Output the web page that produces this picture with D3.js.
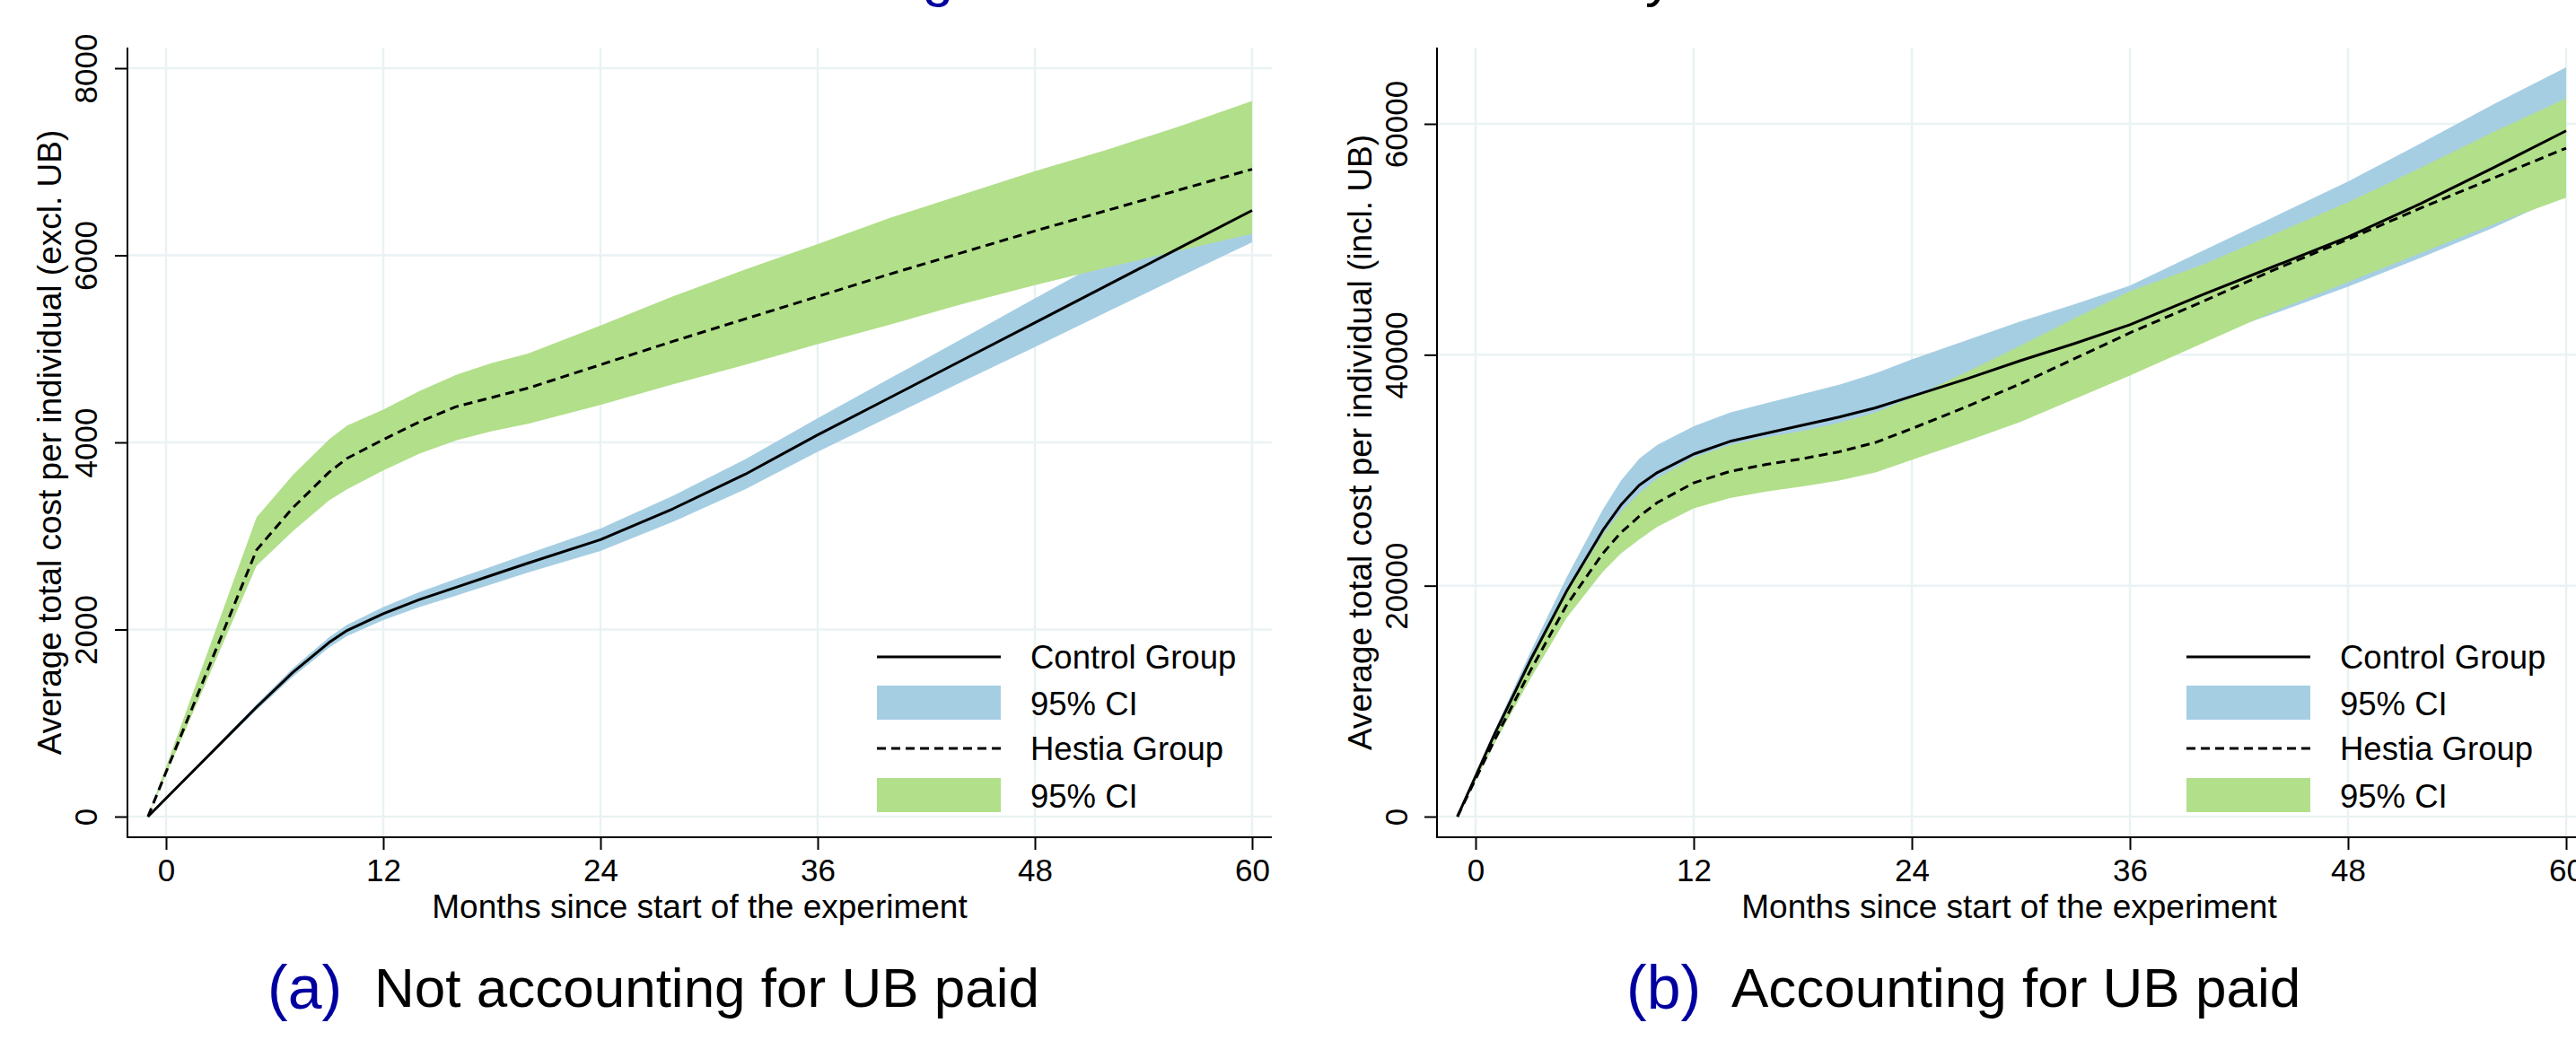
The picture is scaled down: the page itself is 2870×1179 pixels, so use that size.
<!DOCTYPE html>
<html>
<head>
<meta charset="utf-8">
<script src="https://cdn.jsdelivr.net/npm/d3@7"></script>
<style>
  html, body { margin: 0; padding: 0; background: #fff; }
  svg { display: block; }
</style>
</head>
<body>
<div id="chart"></div>
<script>
// shared
const monthTicks = [0, 12, 24, 36, 48, 60];
const legendLabels = ['Control Group', '95% CI', 'Hestia Group', '95% CI'];

// panel (a): not accounting for UB paid
const monthsA = [-1, 5, 7, 9, 10, 12, 14, 16, 18, 20, 24, 28, 32, 36, 40, 44, 48, 52, 56, 60];
const controlA = [0, 1170, 1540, 1860, 1990, 2170, 2320, 2450, 2580, 2710, 2960, 3290, 3660, 4080, 4480, 4880, 5280, 5680, 6080, 6480];
const controlLoA = [0, 1140, 1495, 1805, 1930, 2100, 2240, 2360, 2485, 2610, 2840, 3150, 3500, 3900, 4275, 4650, 5020, 5395, 5770, 6140];
const controlHiA = [0, 1200, 1585, 1915, 2050, 2240, 2400, 2540, 2675, 2810, 3080, 3430, 3820, 4260, 4685, 5110, 5540, 5965, 6390, 6820];
const hestiaA = [0, 2850, 3300, 3680, 3830, 4030, 4220, 4380, 4480, 4580, 4830, 5080, 5320, 5560, 5800, 6030, 6260, 6480, 6700, 6920];
const hestiaLoA = [0, 2680, 3050, 3380, 3500, 3700, 3880, 4020, 4120, 4200, 4400, 4620, 4830, 5050, 5260, 5480, 5680, 5870, 6050, 6230];
const hestiaHiA = [0, 3200, 3650, 4030, 4180, 4350, 4550, 4720, 4850, 4950, 5250, 5560, 5850, 6120, 6400, 6650, 6900, 7130, 7380, 7650];
const yTicksA = [0, 2000, 4000, 6000, 8000];

// panel (b): accounting for UB paid
const monthsB = [-1, 1, 3, 5, 7, 8, 9, 10, 12, 14, 16, 18, 20, 22, 24, 27, 30, 33, 36, 40, 44, 48, 52, 56, 60];
const controlB = [0, 7000, 13500, 19500, 24800, 27000, 28700, 29800, 31400, 32500, 33200, 33900, 34600, 35400, 36400, 37900, 39500, 41000, 42600, 45200, 47700, 50200, 53100, 56200, 59400];
const controlLoB = [0, 6700, 12800, 18300, 23000, 24900, 26400, 27400, 29000, 30000, 30600, 31200, 31800, 32400, 33200, 34550, 36000, 37400, 38900, 41400, 43600, 45900, 48400, 51000, 53900];
const controlHiB = [0, 7300, 14200, 20700, 26600, 29100, 31000, 32200, 33800, 35000, 35800, 36600, 37400, 38400, 39600, 41250, 42900, 44400, 46000, 49000, 52000, 55000, 58300, 61700, 64900];
const hestiaB = [0, 6500, 12600, 18300, 22800, 24600, 26000, 27200, 28900, 29900, 30500, 31000, 31600, 32400, 33600, 35500, 37500, 39700, 41900, 44600, 47400, 50000, 52700, 55300, 57900];
const hestiaLoB = [0, 6200, 11900, 17200, 21200, 22800, 24000, 25100, 26700, 27600, 28150, 28600, 29100, 29800, 30900, 32500, 34200, 36200, 38200, 41000, 43800, 46300, 48800, 51300, 53600];
const hestiaHiB = [0, 6800, 13300, 19400, 24400, 26400, 28000, 29300, 31100, 32200, 32850, 33400, 34100, 35000, 36300, 38500, 40800, 43200, 45500, 47800, 50500, 53200, 56200, 59300, 62200];
const yTicksB = [0, 20000, 40000, 60000];

const W = 2870, H = 1179;
const FONT = "'Liberation Sans', Arial, sans-serif";
const gridColor = '#eaf2f3';
const blue = '#a6cee3', green = '#b2df8a';
const captionBlue = '#0000a0';
const plotTop = 53, axisY = 933;

const svg = d3.select('#chart').append('svg')
    .attr('width', W)
    .attr('height', H)
    .style('font-family', FONT);

svg.append('rect').attr('width', W).attr('height', H).attr('fill', '#fff');

function drawPanel(p) {
    const x = d3.scaleLinear().domain([0, 60]).range([p.x0, p.x60]);
    const y = d3.scaleLinear().domain([0, p.yTop]).range([910, p.yTopPos]);
    const g = svg.append('g');

    // gridlines
    g.selectAll('.vgrid').data(monthTicks).enter().append('line')
        .attr('x1', d => x(d)).attr('x2', d => x(d))
        .attr('y1', plotTop).attr('y2', axisY)
        .style('stroke', gridColor).style('stroke-width', 2.5);
    g.selectAll('.hgrid').data(p.yTicks).enter().append('line')
        .attr('x1', p.axisLeft).attr('x2', p.axisRight)
        .attr('y1', d => y(d)).attr('y2', d => y(d))
        .style('stroke', gridColor).style('stroke-width', 2.5);

    const rows = p.months.map((m, i) => ({
        m: m,
        c: p.control[i], cLo: p.controlLo[i], cHi: p.controlHi[i],
        h: p.hestia[i], hLo: p.hestiaLo[i], hHi: p.hestiaHi[i]
    }));

    const ciControl = d3.area().x(d => x(d.m)).y0(d => y(d.cLo)).y1(d => y(d.cHi));
    const ciHestia = d3.area().x(d => x(d.m)).y0(d => y(d.hLo)).y1(d => y(d.hHi));
    const lineControl = d3.line().x(d => x(d.m)).y(d => y(d.c));
    const lineHestia = d3.line().x(d => x(d.m)).y(d => y(d.h));

    g.append('path').attr('d', ciControl(rows)).style('fill', blue);
    g.append('path').attr('d', ciHestia(rows)).style('fill', green);
    g.append('path').attr('d', lineControl(rows))
        .style('fill', 'none').style('stroke', '#000').style('stroke-width', 3)
        .style('stroke-linejoin', 'round');
    g.append('path').attr('d', lineHestia(rows))
        .style('fill', 'none').style('stroke', '#000').style('stroke-width', 3)
        .style('stroke-linejoin', 'round')
        .style('stroke-dasharray', '10,6');

    // x axis
    const xAxis = g.append('g')
        .attr('transform', `translate(0,${axisY})`)
        .call(d3.axisBottom(x).tickValues(monthTicks).tickSize(14).tickPadding(10).tickSizeOuter(0));
    xAxis.select('.domain').remove();
    xAxis.selectAll('line').style('stroke', '#000').style('stroke-width', 2);
    xAxis.selectAll('text').attr('font-family', FONT).attr('font-size', 35).attr('fill', '#000');
    g.append('line')
        .attr('x1', p.axisLeft - 1).attr('x2', p.axisRight)
        .attr('y1', axisY).attr('y2', axisY)
        .style('stroke', '#000').style('stroke-width', 2);

    // y axis
    const yAxis = g.append('g')
        .attr('transform', `translate(${p.axisLeft},0)`)
        .call(d3.axisLeft(y).tickValues(p.yTicks).tickSize(14).tickSizeOuter(0).tickFormat(d3.format('d')));
    yAxis.select('.domain').remove();
    yAxis.selectAll('line').style('stroke', '#000').style('stroke-width', 2);
    yAxis.selectAll('text')
        .attr('font-family', FONT).attr('font-size', 35).attr('fill', '#000')
        .attr('transform', 'rotate(-90)')
        .attr('x', 0).attr('y', -p.tickLabelGap).attr('dy', 0)
        .style('text-anchor', 'middle');
    g.append('line')
        .attr('x1', p.axisLeft).attr('x2', p.axisLeft)
        .attr('y1', plotTop).attr('y2', axisY + 1)
        .style('stroke', '#000').style('stroke-width', 2);

    // axis titles
    g.append('text')
        .attr('transform', `translate(${p.yTitleX},493) rotate(-90)`)
        .style('text-anchor', 'middle').attr('font-size', 37)
        .text(p.yTitle);
    g.append('text')
        .attr('x', (p.axisLeft + p.axisRight) / 2).attr('y', 1023)
        .style('text-anchor', 'middle').attr('font-size', 37)
        .text('Months since start of the experiment');

    // legend
    const lx = p.axisRight - 440;
    const leg = g.append('g');
    leg.append('line').attr('x1', lx).attr('x2', lx + 138).attr('y1', 732).attr('y2', 732)
        .style('stroke', '#000').style('stroke-width', 3);
    leg.append('rect').attr('x', lx).attr('y', 764).attr('width', 138).attr('height', 38).style('fill', blue);
    leg.append('line').attr('x1', lx).attr('x2', lx + 138).attr('y1', 834).attr('y2', 834)
        .style('stroke', '#000').style('stroke-width', 3).style('stroke-dasharray', '10,6');
    leg.append('rect').attr('x', lx).attr('y', 867).attr('width', 138).attr('height', 38).style('fill', green);
    leg.selectAll('text').data(legendLabels).enter().append('text')
        .attr('x', lx + 171)
        .attr('y', (d, i) => [745, 797, 847, 900][i])
        .attr('font-size', 36.5)
        .text(d => d);

    // sub caption
    g.append('text').attr('x', p.capLabelX).attr('y', 1124).attr('font-size', 68)
        .attr('fill', captionBlue).text(p.capLabel);
    g.append('text').attr('x', p.capTextX).attr('y', 1122).attr('font-size', 62)
        .attr('fill', '#000').text(p.capText);
}

drawPanel({
    months: monthsA, control: controlA, controlLo: controlLoA, controlHi: controlHiA,
    hestia: hestiaA, hestiaLo: hestiaLoA, hestiaHi: hestiaHiA,
    yTicks: yTicksA, yTop: 8000, yTopPos: 76,
    x0: 185, x60: 1395, axisLeft: 142, axisRight: 1417,
    tickLabelGap: 34, yTitleX: 68,
    yTitle: 'Average total cost per individual (excl. UB)',
    capLabelX: 298, capTextX: 417, capLabel: '(a)', capText: 'Not accounting for UB paid'
});

drawPanel({
    months: monthsB, control: controlB, controlLo: controlLoB, controlHi: controlHiB,
    hestia: hestiaB, hestiaLo: hestiaLoB, hestiaHi: hestiaHiB,
    yTicks: yTicksB, yTop: 60000, yTopPos: 138,
    x0: 1644, x60: 2859, axisLeft: 1601, axisRight: 2876,
    tickLabelGap: 33, yTitleX: 1528,
    yTitle: 'Average total cost per individual (incl. UB)',
    capLabelX: 1812, capTextX: 1929, capLabel: '(b)', capText: 'Accounting for UB paid'
});

// figure caption above, mostly outside the frame
svg.append('text').attr('x', 976).attr('y', -5).attr('font-size', 62)
    .attr('fill', captionBlue).text('Figure 5:');
svg.append('text').attr('x', 1864).attr('y', -5).attr('font-size', 62)
    .style('text-anchor', 'end').text('Cumulative costs by');
</script>
</body>
</html>
